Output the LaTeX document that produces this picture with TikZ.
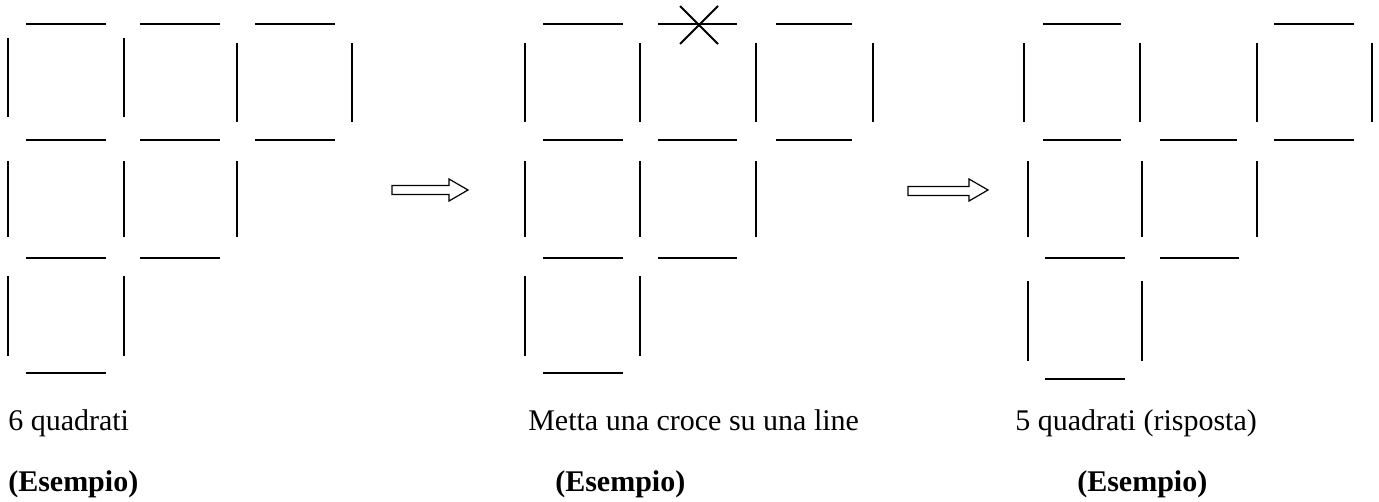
\documentclass[tikz,border=0pt]{standalone}
\usepackage{fontspec}
\setmainfont{Liberation Serif}
\begin{document}
\begin{tikzpicture}[x=0.75pt,y=-0.75pt,
  match/.style={line width=1.4pt,black},
  bigarrow/.style={draw=black,line width=0.9pt,fill=white,line join=miter},
  lbl/.style={anchor=base west,inner sep=0pt,font=\fontsize{22.5}{27}\selectfont},
  blbl/.style={anchor=base west,inner sep=0pt,font=\fontsize{22.5}{27}\selectfont\bfseries}]
\useasboundingbox (0,0) rectangle (1379,501);
% ---- left panel: 6 squares
\foreach \a/\b/\y in {26/106/24,140/220/24,255/335/24,26/106/140,140/220/140,255/335/140,26/106/258,140/220/258,26/106/373}
  \draw[match] (\a,\y) -- (\b,\y);
\foreach \x/\p/\q in {8/38/117,124/38/117,237/43/122,352/43/122,8/161/237,124/161/237,237/161/237,8/276/356,124/276/356}
  \draw[match] (\x,\p) -- (\x,\q);
% ---- middle panel
\foreach \a/\b/\y in {543/623/24,658/737/24,776/852/24,543/623/140,658/737/140,776/852/140,543/623/258,658/737/258,543/623/373}
  \draw[match] (\a,\y) -- (\b,\y);
\foreach \x/\p/\q in {525/43/122,640/43/122,756/43/122,873/43/122,525/161/237,640/161/237,756/161/237,525/276/356,640/276/356}
  \draw[match] (\x,\p) -- (\x,\q);
\draw[match] (680,6) -- (718,44);
\draw[match] (718,6) -- (680,44);
% ---- right panel
\foreach \a/\b/\y in {1043/1121/24,1274/1354/24,1043/1121/140,1160/1237/140,1274/1354/140,1045/1125/258,1160/1239/258,1045/1125/379}
  \draw[match] (\a,\y) -- (\b,\y);
\foreach \x/\p/\q in {1024/43/122,1140/43/122,1257/43/122,1372/43/122,1028/161/237,1142/161/237,1257/161/237,1028/281/361,1142/281/361}
  \draw[match] (\x,\p) -- (\x,\q);
% ---- arrows
\draw[bigarrow] (392,185.5) -- (449,185.5) -- (449,179) -- (468,190) -- (449,201) -- (449,194.5) -- (392,194.5) -- cycle;
\draw[bigarrow] (908,186.5) -- (969,186.5) -- (969,179) -- (988,190) -- (969,201) -- (969,195.5) -- (908,195.5) -- cycle;
% ---- labels
\node[lbl] (t1) at (8,430) {6 quadrati};
\node[lbl] (t2) at (528,430) {Metta una croce su una line};
\node[lbl] (t3) at (1015,430) {5 quadrati (risposta)};
\node[blbl] (e1) at (8,491) {(Esempio)};
\node[blbl] (e2) at (555,491) {(Esempio)};
\node[blbl] (e3) at (1077,491) {(Esempio)};
\end{tikzpicture}
\end{document}
